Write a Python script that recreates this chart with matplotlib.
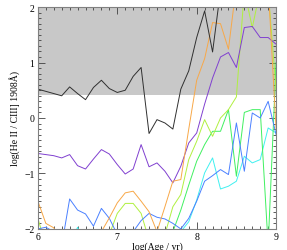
import matplotlib
matplotlib.use("Agg")
import matplotlib.pyplot as plt
from matplotlib.ticker import MultipleLocator

# log(Age / yr) grid
log_age = [6.0, 6.1, 6.2, 6.3, 6.4, 6.5, 6.6, 6.7, 6.8, 6.9,
           7.0, 7.1, 7.2, 7.3, 7.4, 7.5, 7.6, 7.7, 7.8, 7.9,
           8.0, 8.1, 8.2, 8.3, 8.4, 8.5, 8.6, 8.7, 8.8, 8.9, 9.0]

# log(He II / CIII] 1908) for each model track
black = [0.52, 0.48, 0.44, 0.40, 0.56, 0.44, 0.33, 0.55, 0.68, 0.53,
         0.46, 0.50, 0.75, 0.91, -0.28, -0.03, -0.09, -0.20, 0.52, 0.85,
         1.45, 1.93, 1.19, 2.3, 2.4, 2.4, 2.4, 2.4, 2.4, 2.4, 2.4]
orange = [-1.50, -1.90, -1.98, -2.3, -2.3, -2.3, -2.3, -2.3, -2.05, -1.80,
          -1.53, -1.35, -1.32, -1.50, -1.69, -2.05, -1.60, -1.14, -1.11, -0.20,
          0.68, 1.07, 1.72, 1.70, 1.24, 2.4, 2.4, 2.4, 2.4, 2.4, -0.2]
purple = [-0.64, -0.66, -0.68, -0.72, -0.66, -0.86, -0.92, -0.74, -0.57, -0.65,
          -0.84, -1.01, -0.92, -0.48, -0.88, -0.81, -0.96, -1.17, -0.87, -0.45,
          -0.27, 0.25, 0.72, 1.10, 1.18, 0.91, 1.63, 1.65, 1.45, 1.45, 1.33]
blue = [-2.00, -1.97, -2.05, -2.3, -1.46, -1.66, -1.73, -1.95, -1.63, -1.81,
        -2.1, -2.3, -2.05, -1.85, -1.72, -1.79, -1.82, -1.90, -2.00, -1.81,
        -1.50, -1.14, -1.04, -0.93, -1.02, -0.09, -0.96, 0.09, 0.00, 0.30, -0.30]
yellowgreen = [-1.81, -2.3, -2.3, -2.3, -2.3, -2.3, -2.3, -2.3, -2.3, -2.1,
               -1.72, -1.54, -1.54, -1.72, -2.2, -2.3, -2.1, -1.60, -1.38, -0.75,
               -0.42, -0.03, -0.33, 0.00, 0.15, 0.38, 2.3, 1.63, 2.3, 2.3, 0.5]
green = [-2.3, -2.3, -2.3, -2.3, -2.3, -2.3, -2.3, -2.3, -2.3, -2.3,
         -2.3, -2.3, -2.3, -2.3, -2.3, -2.3, -2.3, -2.05, -1.66, -1.21,
         -0.78, -0.48, -0.24, -0.24, 0.15, -1.05, 0.10, 0.15, 0.15, -2.3, 1.0]
cyan = [-2.3, -2.3, -2.3, -2.3, -2.3, -1.97, -2.3, -2.3, -2.3, -2.3,
        -2.3, -2.3, -2.3, -2.3, -2.3, -2.3, -2.3, -2.3, -2.05, -1.87,
        -1.48, -0.99, -0.72, -1.28, -1.23, -1.14, -0.69, -0.81, -0.75, -0.18, -0.27]

shade_level = 0.42

plt.rcParams['font.family'] = ['Liberation Serif', 'DejaVu Serif']
plt.rcParams['font.size'] = 7

fig = plt.figure(figsize=(2.87, 2.51), dpi=100)
ax = fig.add_axes([0.132, 0.084, 0.830, 0.884])

ax.axhspan(shade_level, 2, color='#c8c8c8', zorder=0, lw=0)

lw = 0.7
ax.plot(log_age, cyan, color='#40f0f0', lw=lw)
ax.plot(log_age, green, color='#40f060', lw=lw)
ax.plot(log_age, yellowgreen, color='#b0f040', lw=lw)
ax.plot(log_age, blue, color='#4a80ff', lw=lw)
ax.plot(log_age, purple, color='#8040d0', lw=lw)
ax.plot(log_age, orange, color='#f8a848', lw=lw)
ax.plot(log_age, black, color='#303030', lw=lw)

ax.set_xlim(6, 9)
ax.set_ylim(-2, 2)
ax.xaxis.set_major_locator(MultipleLocator(1))
ax.xaxis.set_minor_locator(MultipleLocator(0.1))
ax.yaxis.set_major_locator(MultipleLocator(1))
ax.yaxis.set_minor_locator(MultipleLocator(0.1))
ax.tick_params(which='both', direction='in', top=True, right=True, width=0.6, color='#404040')
ax.tick_params(which='major', length=5, pad=2.5)
ax.tick_params(which='minor', length=2.5)
for s in ax.spines.values():
    s.set_linewidth(0.8)
    s.set_color('#808080')

ax.set_xlabel('log(Age / yr)', labelpad=0)
ax.set_ylabel('log(He II / CIII] 1908Å)', labelpad=3)

fig.savefig('out.png', dpi=100)
